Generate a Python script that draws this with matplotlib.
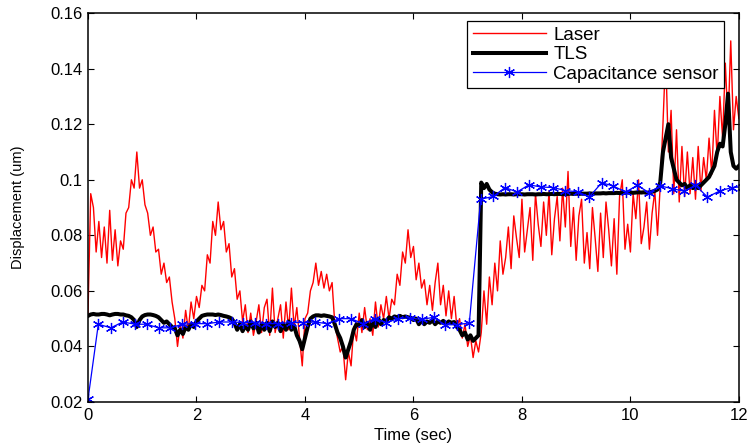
import numpy as np
import matplotlib.pyplot as plt
from matplotlib.ticker import FuncFormatter

plt.rcParams['font.family'] = ['Liberation Sans', 'DejaVu Sans']

# laser and TLS are sampled every 0.05 s from 0 to 12 s
sample_time = np.linspace(0, 12, 241)

laser = [
    0.052, 0.095, 0.090, 0.074, 0.085, 0.072, 0.083, 0.070, 0.089, 0.071,
    0.082, 0.069, 0.078, 0.075, 0.088, 0.090, 0.100, 0.097, 0.110, 0.097,
    0.100, 0.091, 0.088, 0.080, 0.083, 0.074, 0.075, 0.066, 0.070, 0.063,
    0.065, 0.056, 0.050, 0.040, 0.048, 0.043, 0.053, 0.046, 0.056, 0.050,
    0.058, 0.054, 0.062, 0.060, 0.073, 0.070, 0.085, 0.080, 0.092, 0.082,
    0.085, 0.074, 0.077, 0.065, 0.068, 0.057, 0.060, 0.049, 0.055, 0.045,
    0.052, 0.044, 0.049, 0.055, 0.045, 0.054, 0.057, 0.044, 0.061, 0.045,
    0.050, 0.055, 0.043, 0.056, 0.046, 0.061, 0.047, 0.054, 0.043, 0.033,
    0.050, 0.052, 0.060, 0.063, 0.070, 0.062, 0.067, 0.061, 0.066, 0.060,
    0.063, 0.048, 0.043, 0.038, 0.040, 0.028, 0.038, 0.033, 0.047, 0.042,
    0.052, 0.045, 0.054, 0.046, 0.050, 0.044, 0.056, 0.047, 0.055, 0.050,
    0.058, 0.050, 0.057, 0.055, 0.066, 0.062, 0.074, 0.070, 0.082, 0.072,
    0.076, 0.064, 0.070, 0.061, 0.064, 0.055, 0.062, 0.053, 0.063, 0.070,
    0.055, 0.062, 0.051, 0.060, 0.050, 0.058, 0.047, 0.050, 0.043, 0.048,
    0.040, 0.044, 0.036, 0.042, 0.038, 0.045, 0.060, 0.048, 0.065, 0.055,
    0.070, 0.060, 0.078, 0.066, 0.072, 0.083, 0.068, 0.087, 0.079, 0.072,
    0.093, 0.074, 0.082, 0.090, 0.071, 0.095, 0.084, 0.076, 0.092, 0.080,
    0.096, 0.073, 0.086, 0.094, 0.078, 0.097, 0.083, 0.103, 0.076, 0.090,
    0.071, 0.087, 0.093, 0.070, 0.081, 0.068, 0.090, 0.079, 0.067, 0.088,
    0.072, 0.092, 0.082, 0.069, 0.086, 0.066, 0.094, 0.100, 0.075, 0.084,
    0.074, 0.095, 0.086, 0.100, 0.077, 0.083, 0.092, 0.075, 0.088, 0.096,
    0.080, 0.098, 0.120, 0.145, 0.110, 0.125, 0.095, 0.118, 0.092, 0.112,
    0.094, 0.110, 0.095, 0.108, 0.093, 0.112, 0.096, 0.108, 0.100, 0.115,
    0.102, 0.125, 0.108, 0.130, 0.115, 0.142, 0.120, 0.150, 0.118, 0.130,
    0.122,
]

tls = [
    0.0510, 0.0515, 0.0517, 0.0515, 0.0515, 0.0517, 0.0517, 0.0515, 0.0512, 0.0515,
    0.0517, 0.0517, 0.0515, 0.0515, 0.0512, 0.0510, 0.0505, 0.0495, 0.0470, 0.0495,
    0.0508, 0.0513, 0.0515, 0.0515, 0.0513, 0.0510, 0.0505, 0.0495, 0.0485, 0.0490,
    0.0480, 0.0470, 0.0465, 0.0440, 0.0460, 0.0445, 0.0470, 0.0460, 0.0480, 0.0470,
    0.0490, 0.0500, 0.0510, 0.0513, 0.0515, 0.0515, 0.0515, 0.0513, 0.0515, 0.0513,
    0.0510, 0.0508, 0.0505, 0.0500, 0.0485, 0.0460, 0.0480, 0.0455, 0.0475, 0.0460,
    0.0490, 0.0465, 0.0485, 0.0450, 0.0480, 0.0460, 0.0485, 0.0455, 0.0490, 0.0470,
    0.0485, 0.0455, 0.0480, 0.0460, 0.0490, 0.0460, 0.0475, 0.0440, 0.0420, 0.0390,
    0.0430, 0.0470, 0.0500, 0.0508, 0.0512, 0.0512, 0.0510, 0.0512, 0.0510, 0.0508,
    0.0505, 0.0480, 0.0450, 0.0430, 0.0400, 0.0360, 0.0390, 0.0420, 0.0460, 0.0480,
    0.0475, 0.0495, 0.0470, 0.0485, 0.0460, 0.0490, 0.0470, 0.0500, 0.0480, 0.0495,
    0.0490, 0.0505, 0.0500, 0.0508, 0.0505, 0.0510, 0.0505, 0.0508, 0.0505, 0.0503,
    0.0495, 0.0500, 0.0480, 0.0495, 0.0480, 0.0490, 0.0485, 0.0495, 0.0480, 0.0490,
    0.0485, 0.0492, 0.0480, 0.0490, 0.0485, 0.0488, 0.0470, 0.0460, 0.0440, 0.0450,
    0.0425, 0.0440, 0.0420, 0.0430, 0.0440, 0.0990, 0.0970, 0.0985, 0.0965, 0.0955,
    0.0950, 0.0948, 0.0947, 0.0948, 0.0947, 0.0948, 0.0948, 0.0947, 0.0948, 0.0948,
    0.0948, 0.0947, 0.0948, 0.0948, 0.0948, 0.0947, 0.0948, 0.0948, 0.0949, 0.0948,
    0.0948, 0.0949, 0.0948, 0.0949, 0.0949, 0.0948, 0.0949, 0.0949, 0.0950, 0.0949,
    0.0950, 0.0949, 0.0950, 0.0950, 0.0950, 0.0951, 0.0950, 0.0951, 0.0951, 0.0951,
    0.0952, 0.0951, 0.0952, 0.0952, 0.0952, 0.0953, 0.0952, 0.0953, 0.0953, 0.0954,
    0.0954, 0.0953, 0.0954, 0.0955, 0.0954, 0.0955, 0.0953, 0.0955, 0.0957, 0.0960,
    0.0965, 0.0990, 0.1100, 0.1150, 0.1200, 0.1080, 0.1040, 0.1000, 0.0990, 0.0980,
    0.0985, 0.0970, 0.0980, 0.0970, 0.0975, 0.0970, 0.0980, 0.0990, 0.1000, 0.1010,
    0.1030, 0.1050, 0.1100, 0.1130, 0.1120, 0.1200, 0.1310, 0.1100, 0.1050, 0.1040,
    0.1050,
]

cap_time = [
    0.00, 0.19, 0.42, 0.64, 0.87, 1.08, 1.30, 1.52, 1.74, 1.97,
    2.20, 2.42, 2.65, 2.86, 3.08, 3.29, 3.51, 3.74, 3.96, 4.18,
    4.41, 4.63, 4.85, 5.07, 5.29, 5.50, 5.72, 5.93, 6.15, 6.37,
    6.58, 6.81, 7.03, 7.24, 7.47, 7.69, 7.91, 8.13, 8.35, 8.58,
    8.80, 9.03, 9.24, 9.47, 9.68, 9.91, 10.13, 10.34, 10.55, 10.77,
    10.99, 11.20, 11.42, 11.65, 11.87, 12.08,
]
cap_sensor = [
    0.0210, 0.0480, 0.0467, 0.0488, 0.0480, 0.0480, 0.0467, 0.0467, 0.0480, 0.0482,
    0.0482, 0.0488, 0.0488, 0.0486, 0.0486, 0.0482, 0.0482, 0.0486, 0.0486, 0.0488,
    0.0482, 0.0500, 0.0500, 0.0482, 0.0500, 0.0486, 0.0500, 0.0503, 0.0497, 0.0505,
    0.0478, 0.0478, 0.0485, 0.0930, 0.0940, 0.0972, 0.0956, 0.0982, 0.0974, 0.0972,
    0.0961, 0.0957, 0.0938, 0.0989, 0.0978, 0.0956, 0.0980, 0.0954, 0.0978, 0.0968,
    0.0959, 0.0980, 0.0938, 0.0960, 0.0972, 0.0975,
]

fig = plt.figure(figsize=(7.49, 4.48), dpi=100)
ax = fig.add_axes([0.1175, 0.1027, 0.869, 0.868])

ax.plot(sample_time, laser, color='r', linewidth=1.0, label='Laser')
ax.plot(sample_time, tls, color='k', linewidth=2.9, label='TLS')
# MATLAB style asterisk marker
ax.plot(cap_time, cap_sensor, color='b', linewidth=0.9, marker=(6, 2, 0),
        markersize=8, markeredgewidth=0.9, label='Capacitance sensor')

ax.set_xlim(0, 12)
ax.set_ylim(0.02, 0.16)
ax.set_xticks(range(0, 13, 2))
ax.set_yticks([0.02, 0.04, 0.06, 0.08, 0.10, 0.12, 0.14, 0.16])
ax.yaxis.set_major_formatter(FuncFormatter(lambda v, p: '%g' % round(v, 2)))

ax.tick_params(direction='in', length=4, width=0.8, top=True, right=True,
               labelsize=12, pad=4)
for s in ax.spines.values():
    s.set_linewidth(1.1)

ax.set_xlabel('Time (sec)', fontsize=12)
ax.set_ylabel('Displacement (um)', fontsize=10.5)
ax.xaxis.set_label_coords(0.5, -0.066)
ax.yaxis.set_label_coords(-0.097, 0.5)

leg = ax.legend(loc='upper right', bbox_to_anchor=(0.977, 0.979), borderaxespad=0,
                fontsize=13.5, handlelength=3.9, labelspacing=0.13,
                handletextpad=0.4, borderpad=0.28, fancybox=False, framealpha=1,
                edgecolor='k')
leg.get_frame().set_linewidth(0.9)

fig.savefig('out.png', dpi=100)
